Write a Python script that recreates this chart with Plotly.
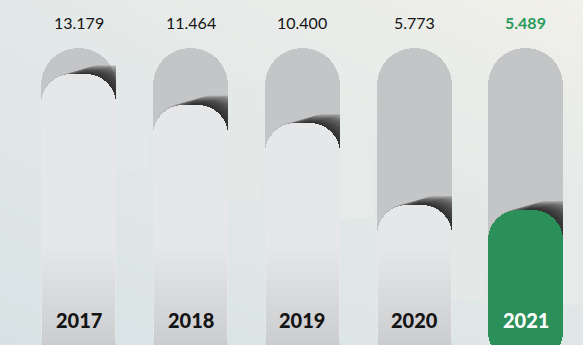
import plotly.graph_objects as go

# ---- data -------------------------------------------------------------
years = ["2017", "2018", "2019", "2020", "2021"]
values = [13.179, 11.464, 10.400, 5.773, 5.489]
highlight_year = "2021"

# ---- geometry / style -------------------------------------------------
W, H = 583, 345
X0, X1 = -0.705, 4.51          # x-axis range (bar centres at 0..4)
Y0, Y1 = -2.14, 17.39          # y-axis range
kx = W / (X1 - X0)             # pixels per x unit
ky = H / (Y1 - Y0)             # pixels per y unit
bar_px = 75
bar_w = bar_px / kx            # pill width in x units
track_top = 14.67              # height of the grey pill
floor = -3.1                   # pills run past the bottom edge

TRACK = "#c4c5c7"
FILL = "#e6e7e9"
GREEN = "#2a8f58"
GREEN_TXT = "#2a9a5c"
INK = "#141414"

# background gradient: corner weights and colour stops
BG_Z = [[0.0, 0.3], [0.45, 1.0]]        # rows: bottom, top
BG_SCALE = [[0, "#d8e2e4"], [0.5, "#e4e9e8"], [1, "#f1f0ea"]]

xs = list(range(len(years)))
is_hi = [y == highlight_year for y in years]
fill_colors = [GREEN if h else FILL for h in is_hi]


def hex_rgb(c):
    c = c.lstrip("#")
    return [int(c[i:i + 2], 16) for i in (0, 2, 4)]


def bg_at(x, y):
    """Colour of the background gradient at data point (x, y)."""
    fx = (x - X0) / (X1 - X0)
    fy = (y - Y0) / (Y1 - Y0)
    z = ((1 - fx) * (1 - fy) * BG_Z[0][0] + fx * (1 - fy) * BG_Z[0][1]
         + (1 - fx) * fy * BG_Z[1][0] + fx * fy * BG_Z[1][1])
    for (z0, c0), (z1, c1) in zip(BG_SCALE[:-1], BG_SCALE[1:]):
        if z <= z1:
            f = (z - z0) / (z1 - z0)
            a, b = hex_rgb(c0), hex_rgb(c1)
            return "rgb(%d,%d,%d)" % tuple(round(p + (q - p) * f) for p, q in zip(a, b))
    return BG_SCALE[-1][1]


fig = go.Figure()

fig.add_trace(go.Heatmap(
    x=[X0, X1], y=[Y0, Y1], z=BG_Z, zmin=0, zmax=1,
    zsmooth="best", showscale=False, hoverinfo="skip", colorscale=BG_SCALE,
))


def pill(top, base, colors, radius, width=bar_w, offset=None):
    bases = base if isinstance(base, list) else [base] * len(xs)
    kw = dict(x=xs, base=bases, y=[t - b for t, b in zip(top, bases)],
              width=width,
              marker=dict(color=colors, cornerradius=radius, line=dict(width=0)),
              hoverinfo="skip", showlegend=False)
    if offset is not None:
        kw["offset"] = offset
    fig.add_trace(go.Bar(**kw))


# grey track
pill([track_top] * len(xs), floor, TRACK, 38)

# soft shadow: copies of each cap nudged up and to the right
shadow_base = [v - 90 / ky for v in values]
N = 24
for i in range(N):
    t = i / (N - 1)
    s_px = 30 * t
    u_px = 1.0 + 8.5 * t
    pill([v + u_px / ky for v in values], shadow_base, "rgba(0,0,0,0.05)", 30,
         offset=-bar_w / 2 + s_px / kx)

# trim the part of the shadow that slips past each track's right edge
mask_w = 33 / kx
mask_colors = [bg_at(x + bar_w / 2 + mask_w / 2, v) for x, v in zip(xs, values)]
pill([v + 16 / ky for v in values], [v - 95 / ky for v in values],
     mask_colors, 0, width=mask_w, offset=bar_w / 2)

# value bars
pill(values, floor, fill_colors, 30)

# gentle darkening toward the foot of the light bars
shade = ["rgba(0,0,0,0)" if h else "rgba(0,0,0,0.008)" for h in is_hi]
for k in range(13):
    p = 250 + k * 7.5
    lvl = Y1 - p / ky
    pill([lvl] * len(xs), floor, shade, 0, width=bar_w - 2 / kx)

# value labels and year labels
for x, yr, v, h in zip(xs, years, values, is_hi):
    fig.add_annotation(
        x=x, y=1 - 23 / H, xref="x", yref="paper", showarrow=False,
        text=(f"<b>{v:.3f}</b>" if h else f"{v:.3f}"),
        font=dict(family="Lato", size=16, color=GREEN_TXT if h else INK),
        yanchor="middle")
    fig.add_annotation(
        x=x, y=1 - 319.5 / H, xref="x", yref="paper", showarrow=False,
        text=yr,
        font=dict(family="Lato", size=20, weight=900,
                  color="#ffffff" if h else INK),
        yanchor="middle")

fig.update_layout(
    width=W, height=H, margin=dict(l=0, r=0, t=0, b=0),
    barmode="overlay", bargap=0,
    paper_bgcolor="#e6ebea", plot_bgcolor="#e6ebea",
    xaxis=dict(range=[X0, X1], visible=False, fixedrange=True),
    yaxis=dict(range=[Y0, Y1], visible=False, fixedrange=True),
    showlegend=False,
)

fig.write_html("out.html")
